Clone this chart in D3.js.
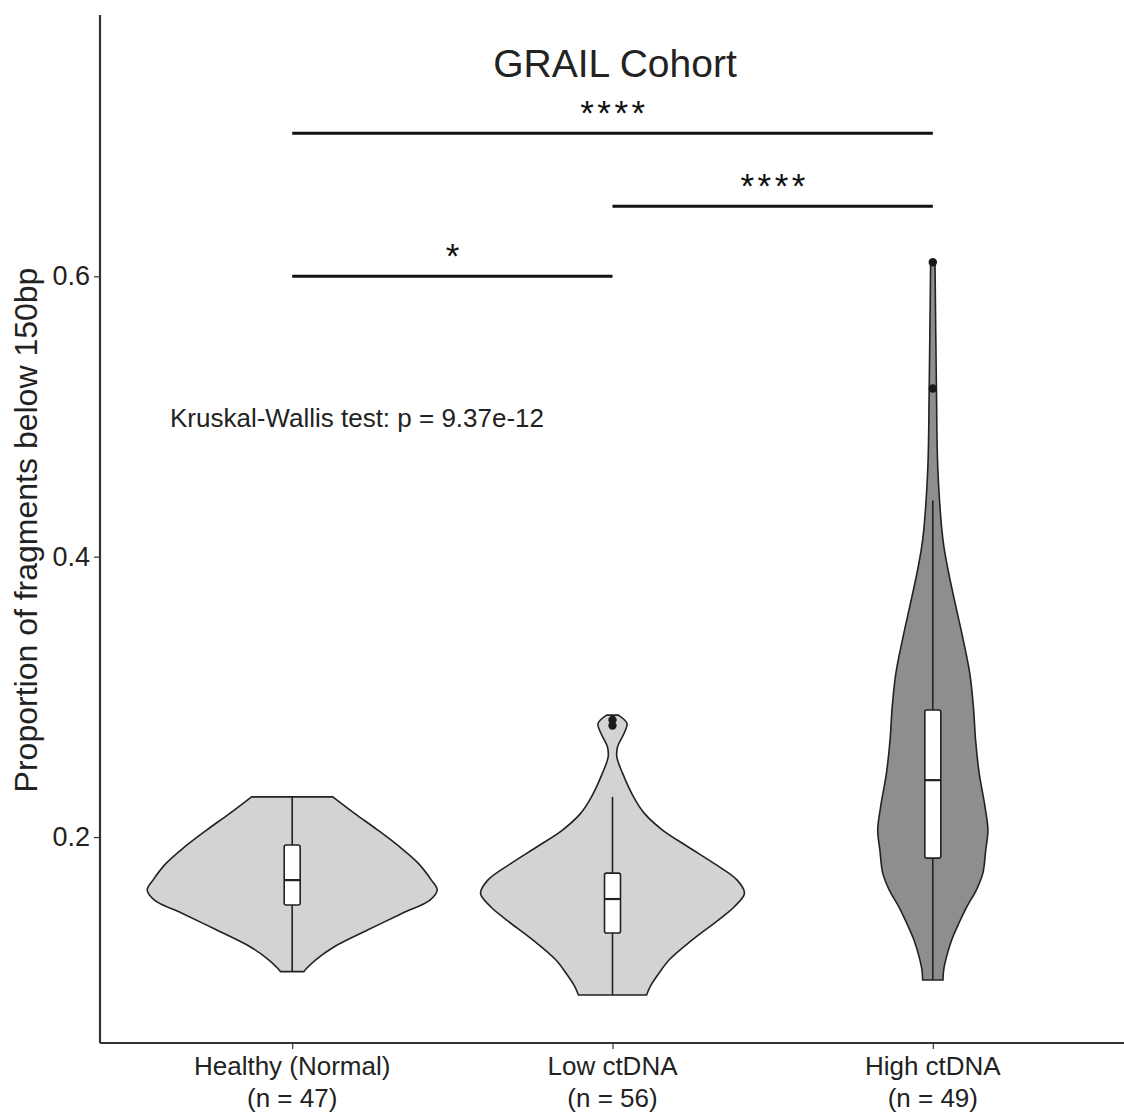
<!DOCTYPE html>
<html>
<head>
<meta charset="utf-8">
<script src="https://cdn.jsdelivr.net/npm/d3@7"></script>
<style>
  html, body { margin: 0; padding: 0; background: #ffffff; }
  svg { display: block; font-family: "Liberation Sans", Arial, sans-serif; }
</style>
</head>
<body>
<svg id="chart" width="1124" height="1115"></svg>
<script>
// ---- data ----
const categories = ["Healthy (Normal)", "Low ctDNA", "High ctDNA"];
const sampleSizes = [47, 56, 49];

// violin outlines: [value, relative density]
const densityHealthy = [
  [0.1040, 0.08], [0.1064, 0.10], [0.1123, 0.16], [0.1218, 0.29], [0.1337, 0.52],
  [0.1456, 0.76], [0.1550, 0.95], [0.1622, 1.00], [0.1693, 0.96], [0.1812, 0.87],
  [0.1931, 0.74], [0.2050, 0.59], [0.2169, 0.43], [0.2287, 0.28]
];
const densityLow = [
  [0.0873, 0.235], [0.0933, 0.26], [0.1028, 0.32], [0.1123, 0.39], [0.1266, 0.55],
  [0.1408, 0.73], [0.1503, 0.84], [0.1598, 0.91], [0.1693, 0.86], [0.1812, 0.70],
  [0.1931, 0.52], [0.2050, 0.345], [0.2169, 0.22], [0.2287, 0.145], [0.2454, 0.07],
  [0.2572, 0.03], [0.2644, 0.035], [0.2740, 0.08], [0.2811, 0.10], [0.2870, 0.04]
];
const densityHigh = [
  [0.098, 0.07], [0.1052, 0.075], [0.1147, 0.095], [0.1266, 0.13], [0.1385, 0.18],
  [0.1503, 0.235], [0.1622, 0.30], [0.1741, 0.345], [0.1907, 0.365], [0.205, 0.38],
  [0.2216, 0.36], [0.2454, 0.32], [0.2692, 0.295], [0.2929, 0.28], [0.3167, 0.255],
  [0.3405, 0.21], [0.364, 0.16], [0.388, 0.11], [0.412, 0.07], [0.462, 0.035],
  [0.52, 0.025], [0.611, 0.015]
];

// box plot summaries
const whiskerLow  = [0.1045, 0.0873, 0.098];
const quartile1   = [0.1515, 0.1316, 0.185];
const medians     = [0.1693, 0.1558, 0.2406];
const quartile3   = [0.1943, 0.1743, 0.2906];
const whiskerHigh = [0.2285, 0.2287, 0.44];
const outliers    = [[], [0.2835, 0.2795], [0.610, 0.520]];

// pairwise comparisons
const compFrom   = [0, 1, 0];
const compTo     = [2, 2, 1];
const compY      = [0.702, 0.650, 0.600];
const compLabels = ["****", "****", "*"];

const yTicks = [0.2, 0.4, 0.6];
const kwLabel = "Kruskal-Wallis test: p = 9.37e-12";

// ---- layout ----
const svg = d3.select("#chart");
const plotLeft = 100, plotRight = 1125, plotTop = 15, plotBottom = 1043;

const x = d3.scalePoint().domain(categories).range([plotLeft, plotRight]).padding(0.6);
const y = d3.scaleLinear().domain([0.0531, 0.7864]).range([plotBottom, plotTop]);
const w = d3.scaleLinear().domain([0, 1]).range([0, 145]);

const fills = ["#d3d3d3", "#d3d3d3", "#8e8e8e"];
const densities = [densityHealthy, densityLow, densityHigh];

// violins
densities.forEach((dens, i) => {
  const cx = x(categories[i]);
  const area = d3.area()
    .curve(d3.curveCatmullRom.alpha(0.5))
    .y(d => y(d[0]))
    .x0(d => cx - w(d[1]))
    .x1(d => cx + w(d[1]));
  svg.append("path")
    .attr("d", area(dens))
    .attr("fill", fills[i])
    .attr("stroke", "#222")
    .attr("stroke-width", 1.6);
});

// box plots
const boxHalf = 8;
categories.forEach((c, i) => {
  const cx = x(c);
  svg.append("line")
    .attr("x1", cx).attr("x2", cx)
    .attr("y1", y(whiskerLow[i])).attr("y2", y(whiskerHigh[i]))
    .attr("stroke", "#222").attr("stroke-width", 1.6);
  svg.append("rect")
    .attr("x", cx - boxHalf).attr("width", boxHalf * 2)
    .attr("y", y(quartile3[i])).attr("height", y(quartile1[i]) - y(quartile3[i]))
    .attr("rx", 2)
    .attr("fill", "#ffffff").attr("stroke", "#222").attr("stroke-width", 1.6);
  svg.append("line")
    .attr("x1", cx - boxHalf).attr("x2", cx + boxHalf)
    .attr("y1", y(medians[i])).attr("y2", y(medians[i]))
    .attr("stroke", "#222").attr("stroke-width", 2.2);
  outliers[i].forEach(v => {
    svg.append("circle")
      .attr("cx", cx).attr("cy", y(v)).attr("r", 4.2)
      .attr("fill", "#1a1a1a");
  });
});

// axes
const yAxis = d3.axisLeft(y).tickValues(yTicks).tickSize(6).tickPadding(4)
  .tickFormat(d3.format(".1f"));
const gy = svg.append("g").attr("transform", `translate(${plotLeft},0)`).call(yAxis);
gy.select(".domain").remove();
gy.selectAll(".tick line").attr("stroke", "#333").attr("stroke-width", 1.2);
gy.selectAll(".tick text").attr("font-size", 27).attr("fill", "#222")
  .attr("font-family", "Liberation Sans, Arial, sans-serif");

const xAxis = d3.axisBottom(x).tickSize(6).tickFormat("");
const gx = svg.append("g").attr("transform", `translate(0,${plotBottom})`).call(xAxis);
gx.select(".domain").remove();
gx.selectAll(".tick line").attr("stroke", "#333").attr("stroke-width", 1.2);

svg.append("line").attr("x1", plotLeft).attr("x2", plotLeft).attr("y1", plotTop).attr("y2", plotBottom)
  .attr("stroke", "#333").attr("stroke-width", 2.2);
svg.append("line").attr("x1", plotLeft).attr("x2", 1124).attr("y1", plotBottom).attr("y2", plotBottom)
  .attr("stroke", "#333").attr("stroke-width", 2.2);

// category labels
categories.forEach((c, i) => {
  const t = svg.append("text")
    .attr("x", x(c)).attr("text-anchor", "middle")
    .attr("font-size", 26).attr("fill", "#222");
  t.append("tspan").attr("x", x(c)).attr("y", 1075).text(c);
  t.append("tspan").attr("x", x(c)).attr("y", 1107).text(`(n = ${sampleSizes[i]})`);
});

// y-axis title
svg.append("text")
  .attr("transform", "translate(37,530) rotate(-90)")
  .attr("text-anchor", "middle")
  .attr("font-size", 32).attr("fill", "#222")
  .text("Proportion of fragments below 150bp");

// title
svg.append("text")
  .attr("x", 615).attr("y", 77).attr("text-anchor", "middle")
  .attr("font-size", 39).attr("fill", "#222")
  .text("GRAIL Cohort");

// Kruskal-Wallis annotation
svg.append("text")
  .attr("x", 170).attr("y", 427)
  .attr("font-size", 26).attr("fill", "#222")
  .text(kwLabel);

// significance bars
compLabels.forEach((lab, k) => {
  const x1 = x(categories[compFrom[k]]), x2 = x(categories[compTo[k]]);
  const yy = y(compY[k]);
  svg.append("line")
    .attr("x1", x1).attr("x2", x2).attr("y1", yy).attr("y2", yy)
    .attr("stroke", "#111").attr("stroke-width", 3);
  svg.append("text")
    .attr("x", (x1 + x2) / 2 + 2).attr("y", yy - 8)
    .attr("text-anchor", "middle")
    .attr("font-size", 35).attr("letter-spacing", 3.5)
    .attr("fill", "#111")
    .text(lab);
});
</script>
</body>
</html>
